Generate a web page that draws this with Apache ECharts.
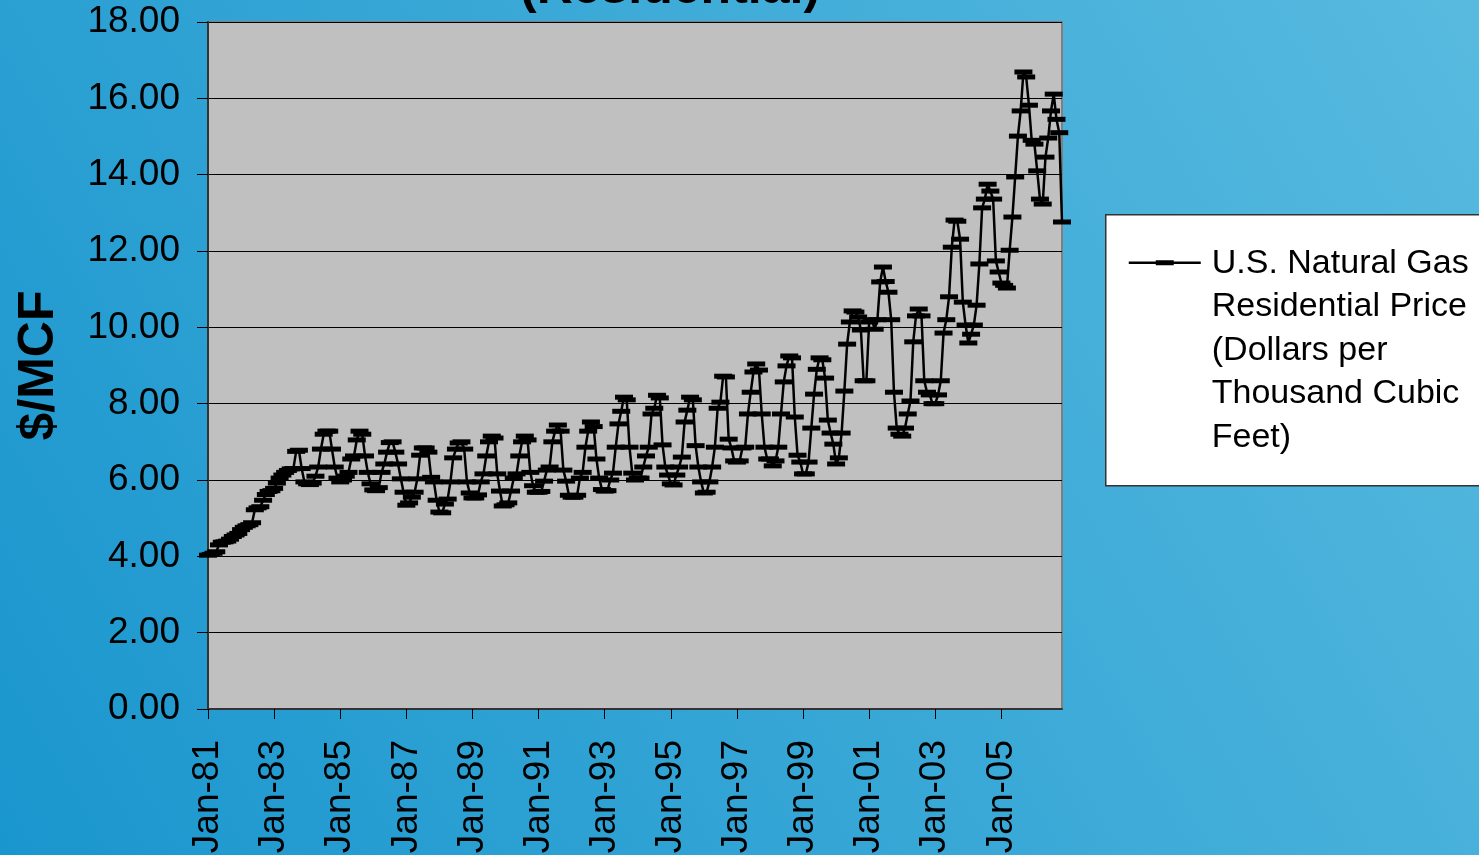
<!DOCTYPE html>
<html>
<head>
<meta charset="utf-8">
<script src="https://cdn.jsdelivr.net/npm/echarts@6/dist/echarts.min.js"></script>
<style>
html, body { margin: 0; padding: 0; }
#chart { width: 1479px; height: 855px; }
</style>
</head>
<body>
<div id="chart"></div>
<script>
// monthly residential price, $/MCF (Jan..Dec)
var p1981 = [4.03, 4.05, 4.08, 4.12, 4.30, 4.37, 4.38, 4.40, 4.45, 4.52, 4.56, 4.60];
var p1982 = [4.70, 4.76, 4.80, 4.83, 4.88, 5.22, 5.27, 5.30, 5.47, 5.62, 5.70, 5.72];
var p1983 = [5.78, 5.92, 6.05, 6.13, 6.20, 6.25, 6.29, 6.30, 6.75, 6.78, 6.30, 5.95];
var p1984 = [5.90, 5.88, 5.92, 6.10, 6.34, 6.81, 7.20, 7.28, 7.28, 6.81, 6.34, 6.05];
var p1985 = [5.95, 6.00, 6.10, 6.20, 6.55, 6.63, 7.05, 7.28, 7.20, 6.63, 6.20, 5.90];
var p1986 = [5.74, 5.72, 5.80, 6.20, 6.42, 6.73, 6.98, 7.00, 6.73, 6.42, 6.03, 5.68];
var p1987 = [5.34, 5.40, 5.55, 5.68, 6.03, 6.65, 6.84, 6.84, 6.73, 6.07, 5.95, 5.47];
var p1988 = [5.16, 5.14, 5.37, 5.50, 5.95, 6.58, 6.81, 6.97, 7.00, 6.81, 5.95, 5.66];
var p1989 = [5.53, 5.53, 5.61, 5.95, 6.16, 6.63, 7.00, 7.15, 7.10, 6.16, 5.71, 5.32];
var p1990 = [5.35, 5.40, 5.71, 6.05, 6.16, 6.63, 7.00, 7.15, 7.05, 6.20, 5.85, 5.68];
var p1991 = [5.68, 5.70, 5.97, 6.26, 6.34, 7.00, 7.28, 7.44, 7.28, 6.26, 5.97, 5.60];
var p1992 = [5.55, 5.55, 5.60, 6.05, 6.20, 6.86, 7.28, 7.52, 7.40, 6.55, 6.05, 5.75];
var p1993 = [5.71, 5.72, 6.00, 6.18, 6.86, 7.47, 7.80, 8.17, 8.10, 6.86, 6.18, 6.00];
var p1994 = [6.05, 6.05, 6.34, 6.63, 6.86, 7.73, 7.88, 8.22, 8.15, 6.92, 6.34, 6.13];
var p1995 = [5.90, 5.87, 6.13, 6.34, 6.60, 7.52, 7.83, 8.17, 8.10, 6.90, 6.34, 5.95];
var p1996 = [5.66, 5.68, 5.95, 6.34, 6.86, 7.88, 8.04, 8.72, 8.70, 7.07, 6.84, 6.50];
var p1997 = [6.47, 6.50, 6.84, 6.86, 7.73, 8.30, 8.83, 9.04, 8.88, 7.73, 6.86, 6.55];
var p1998 = [6.55, 6.37, 6.50, 6.86, 7.73, 8.57, 8.99, 9.25, 9.20, 7.65, 6.65, 6.47];
var p1999 = [6.16, 6.16, 6.47, 7.36, 8.25, 8.90, 9.20, 9.15, 8.67, 7.57, 7.23, 6.94];
var p2000 = [6.42, 6.58, 7.23, 8.33, 9.56, 10.14, 10.43, 10.40, 10.27, 9.93, 8.60, 8.60];
var p2001 = [10.14, 10.20, 9.95, 10.20, 11.19, 11.58, 11.20, 10.92, 10.20, 8.30, 7.36, 7.20];
var p2002 = [7.15, 7.36, 7.73, 8.07, 9.62, 10.30, 10.48, 10.30, 8.60, 8.30, 8.23, 8.00];
var p2003 = [8.00, 8.23, 8.60, 9.85, 10.20, 10.80, 12.10, 12.81, 12.78, 12.31, 10.66, 10.06];
var p2004 = [9.59, 9.82, 10.06, 10.58, 11.66, 13.13, 13.36, 13.75, 13.57, 13.36, 11.74, 11.45];
var p2005 = [11.16, 11.10, 11.03, 12.02, 12.89, 13.94, 15.01, 15.67, 16.69, 16.56, 15.82, 14.90];
var p2006 = [14.80, 14.10, 13.36, 13.23, 14.46, 14.96, 15.67, 16.11, 15.45, 15.10, 12.76];

var yearLists = [p1981, p1982, p1983, p1984, p1985, p1986, p1987, p1988, p1989,
  p1990, p1991, p1992, p1993, p1994, p1995, p1996, p1997, p1998, p1999,
  p2000, p2001, p2002, p2003, p2004, p2005, p2006];
var firstYear = 1981;
var monthNames = ["Jan", "Feb", "Mar", "Apr", "May", "Jun", "Jul", "Aug", "Sep", "Oct", "Nov", "Dec"];
var seriesName = "U.S. Natural Gas Residential Price (Dollars per Thousand Cubic Feet)";
var legendLines = ["U.S. Natural Gas", "Residential Price", "(Dollars per", "Thousand Cubic", "Feet)"];

// category labels like Jan-81 and the flat value list
var categories = [];
var prices = [];
yearLists.forEach(function (list, i) {
  var yy = String((firstYear + i) % 100);
  if (yy.length < 2) yy = "0" + yy;
  list.forEach(function (v, m) {
    categories.push(monthNames[m] + "-" + yy);
    prices.push(v);
  });
});

var font = "Liberation Sans, Arial, sans-serif";
var myChart = echarts.init(document.getElementById("chart"));

var option = {
  animation: false,
  backgroundColor: new echarts.graphic.LinearGradient(0, 1, 1, 0, [
    { offset: 0, color: "#1a96ce" },
    { offset: 1, color: "#58badf" }
  ]),
  title: {
    text: "(Residential)",
    left: 515,
    top: -41,
    textStyle: { fontFamily: font, fontSize: 50, fontWeight: "bold", color: "#000" }
  },
  grid: {
    left: 208, right: 417, top: 22, bottom: 146,
    containLabel: false,
    outerBoundsMode: "none",
    show: true,
    backgroundColor: "#c0c0c0",
    borderColor: "#7f7f7f",
    borderWidth: 2
  },
  xAxis: {
    type: "category",
    data: categories,
    boundaryGap: false,
    axisLine: { lineStyle: { color: "#333", width: 2 } },
    axisTick: { show: true, interval: 23, length: 10, lineStyle: { color: "#000", width: 1 } },
    axisLabel: {
      interval: 23, rotate: 90, margin: 31,
      fontFamily: font, fontSize: 37, color: "#000"
    },
    splitLine: { show: false }
  },
  yAxis: {
    type: "value",
    min: 0, max: 18, interval: 2,
    name: "$/MCF",
    nameLocation: "middle",
    nameGap: 144,
    nameTextStyle: { fontFamily: font, fontSize: 50, fontWeight: "bold", color: "#000" },
    axisLine: { show: true, lineStyle: { color: "#333", width: 2 } },
    axisTick: { show: true, length: 11, lineStyle: { color: "#000" } },
    axisLabel: {
      margin: 28, fontFamily: font, fontSize: 37, color: "#000",
      formatter: function (v) { return v.toFixed(2); }
    },
    splitLine: { lineStyle: { color: "#000", width: 1 } }
  },
  graphic: [
    {
      type: "group",
      left: 1105, top: 214,
      children: [
        { type: "rect", shape: { x: 0, y: 0, width: 400, height: 271 },
          style: { fill: "#fff", stroke: "#333", lineWidth: 1.5 } },
        { type: "line", shape: { x1: 23, y1: 48, x2: 95, y2: 48 },
          style: { stroke: "#000", lineWidth: 2.5 } },
        { type: "rect", shape: { x: 50, y: 45.5, width: 18, height: 5 },
          style: { fill: "#000" } },
        { type: "text", x: 106, y: 27,
          style: { text: legendLines.join("\n"), font: "34px " + font,
                   lineHeight: 43.5, fill: "#000", verticalAlign: "top" } }
      ]
    }
  ],
  series: [
    {
      name: seriesName,
      type: "line",
      data: prices,
      symbol: "rect",
      symbolSize: [18, 5],
      showAllSymbol: true,
      lineStyle: { color: "#000", width: 2.5 },
      itemStyle: { color: "#000" }
    }
  ]
};

myChart.setOption(option);
</script>
</body>
</html>
